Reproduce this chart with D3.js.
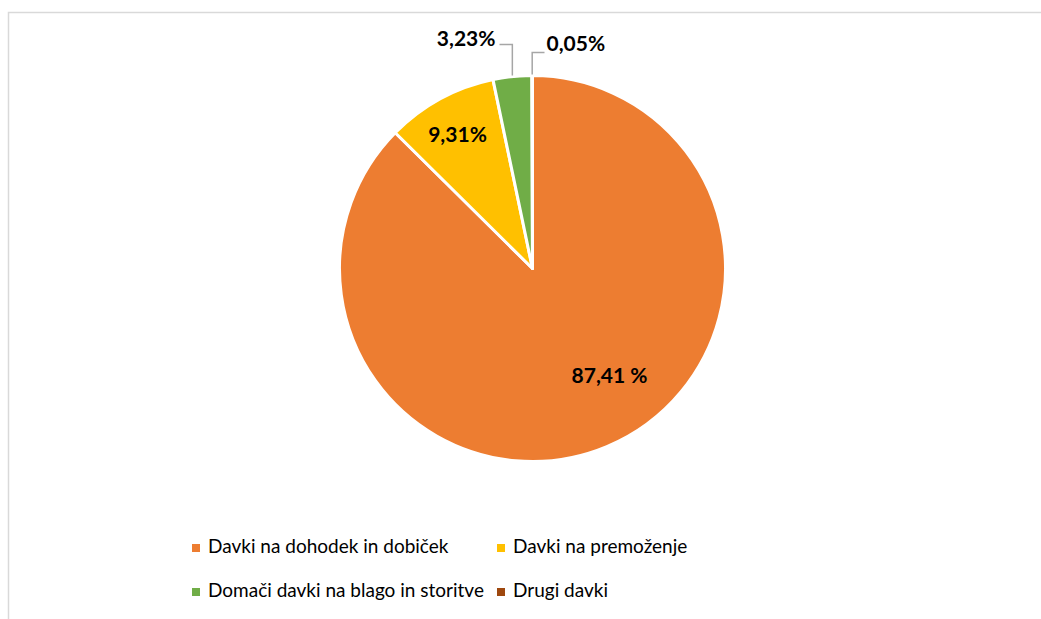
<!DOCTYPE html>
<meta charset="utf-8">
<script src="https://d3js.org/d3.v7.min.js"></script>
<style>
  body { margin: 0; background: #fff; }
  text { font-family: Lato, "Open Sans", sans-serif; }
</style>
<body>
<svg id="chart" width="1041" height="619"></svg>
<script>

// categories, values and labels
var categories = ["Davki na dohodek in dobiček", "Davki na premoženje", "Domači davki na blago in storitve", "Drugi davki"];
var values = [87.41, 9.31, 3.23, 0.05];
var labels = ["87,41 %", "9,31%", "3,23%", "0,05%"];
var colors = ["#ED7D31", "#FFC000", "#70AD47", "#9E480E"];

var svg = d3.select("#chart");

// chart area border (cut off at right and bottom)
svg.append("rect")
  .attr("x", 8.5).attr("y", 12.5)
  .attr("width", 1100).attr("height", 700)
  .attr("fill", "#fff")
  .attr("stroke", "#d9d9d9")
  .attr("stroke-width", 1.5);

var cx = 532.5, cy = 268.5, r = 193;

var pie = d3.pie().sort(null).value(function(d) { return d; });
var arcs = pie(values);
var arc = d3.arc().innerRadius(0).outerRadius(r);

var g = svg.append("g").attr("transform", "translate(" + cx + "," + cy + ")");

g.selectAll("path")
  .data(arcs)
  .enter()
  .append("path")
    .attr("d", arc)
    .attr("fill", function(d, i) { return colors[i]; })
    .attr("stroke", "#fff")
    .attr("stroke-width", 3)
    .attr("stroke-linejoin", "round");

function labelPos(d, k) {
  var a = (d.startAngle + d.endAngle) / 2;
  return [Math.sin(a) * r * k, -Math.cos(a) * r * k];
}

// inside labels
g.append("text")
  .attr("x", 77).attr("y", 109)
  .attr("text-anchor", "middle")
  .attr("dominant-baseline", "middle")
  .attr("font-size", 21).attr("font-weight", "bold")
  .text(labels[0]);

var p1 = labelPos(arcs[1], 0.78);
g.append("text")
  .attr("x", p1[0] - 3).attr("y", p1[1])
  .attr("text-anchor", "middle")
  .attr("dominant-baseline", "middle")
  .attr("font-size", 21).attr("font-weight", "bold")
  .text(labels[1]);

// outside labels with leader lines
function edge(d) {
  var a = (d.startAngle + d.endAngle) / 2;
  return [Math.sin(a) * r, -Math.cos(a) * r];
}
var e2 = edge(arcs[2]), e3 = edge(arcs[3]);

g.append("polyline")
  .attr("points", [[-33, -224], [e2[0], -224], [e2[0], e2[1] - 1]].join(" "))
  .attr("fill", "none").attr("stroke", "#a6a6a6").attr("stroke-width", 1.5);
g.append("text")
  .attr("x", -37).attr("y", -228)
  .attr("text-anchor", "end").attr("dominant-baseline", "middle")
  .attr("font-size", 21).attr("font-weight", "bold")
  .text(labels[2]);

g.append("polyline")
  .attr("points", [[12, -216], [e3[0], -216], [e3[0], e3[1] - 1]].join(" "))
  .attr("fill", "none").attr("stroke", "#a6a6a6").attr("stroke-width", 1.5);
g.append("text")
  .attr("x", 14).attr("y", -223)
  .attr("text-anchor", "start").attr("dominant-baseline", "middle")
  .attr("font-size", 21).attr("font-weight", "bold")
  .text(labels[3]);

// legend
var legendPos = [[192, 548], [497, 548], [192, 592], [497, 592]];
var legend = svg.selectAll(".legend")
  .data(categories)
  .enter()
  .append("g")
    .attr("class", "legend")
    .attr("transform", function(d, i) { return "translate(" + legendPos[i][0] + "," + legendPos[i][1] + ")"; });

legend.append("rect")
  .attr("x", 0).attr("y", -4)
  .attr("width", 8).attr("height", 8)
  .attr("fill", function(d, i) { return colors[i]; });

legend.append("text")
  .attr("x", 16).attr("y", 0)
  .attr("dominant-baseline", "middle")
  .attr("font-size", 19)
  .attr("fill", "#000")
  .text(function(d) { return d; });

</script>
</body>
